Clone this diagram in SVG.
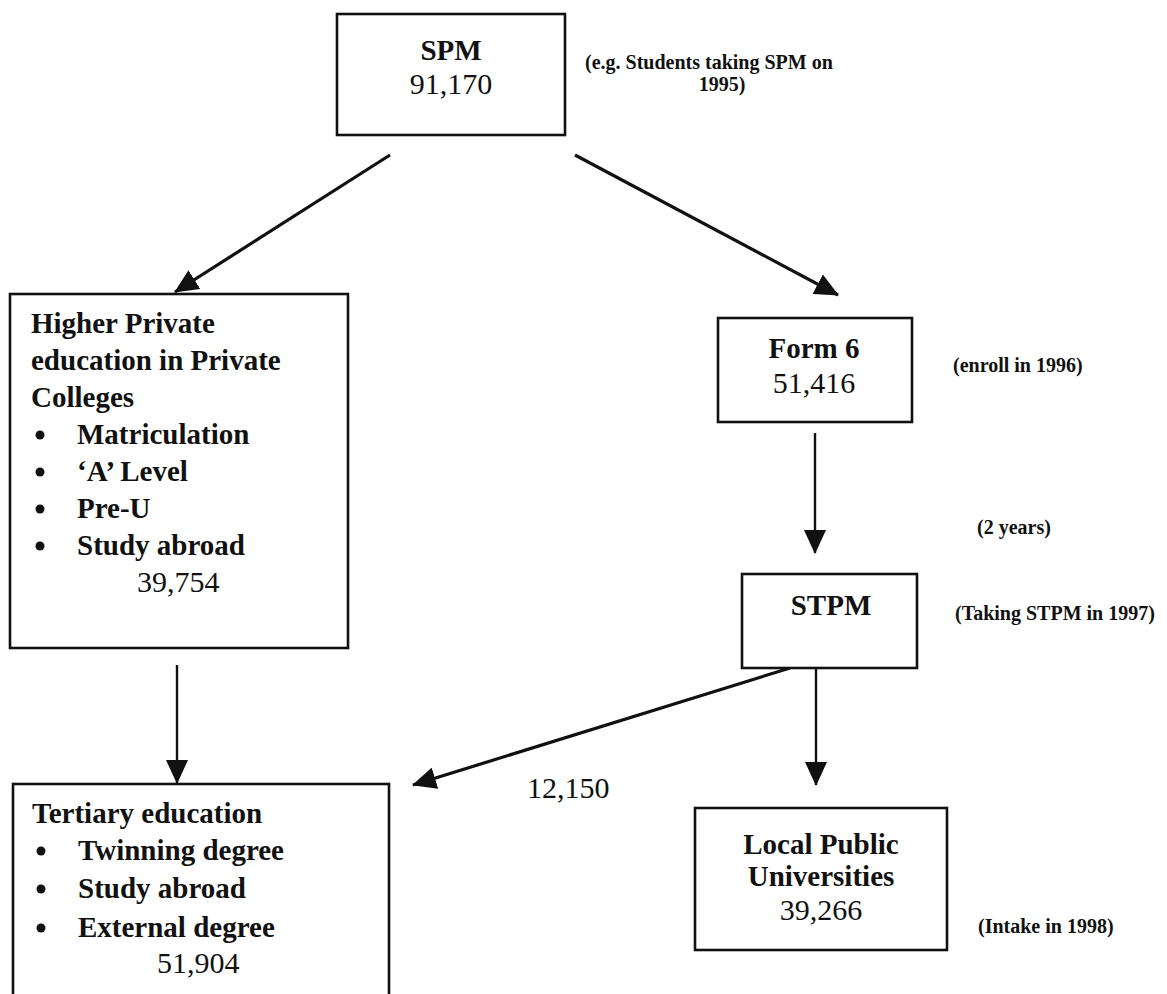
<svg xmlns="http://www.w3.org/2000/svg" width="1167" height="994" viewBox="0 0 1167 994">
<defs>
<style>
.box{fill:#fff;stroke:#111;stroke-width:2.6}
.lbl{font-family:"Liberation Serif","Times New Roman",serif;font-size:29px;font-weight:bold;fill:#111}
.num{font-family:"Liberation Serif","Times New Roman",serif;font-size:30px;fill:#111}
.note{font-family:"Liberation Serif","Times New Roman",serif;font-size:20px;font-weight:bold;fill:#111}
.c{text-anchor:middle}
.edge{stroke:#111;stroke-width:3.2;fill:none;marker-end:url(#ah)}
.vedge{stroke:#111;stroke-width:2.4;fill:none;marker-end:url(#ah)}
.dot{fill:#111}
</style>
<marker id="ah" markerUnits="userSpaceOnUse" markerWidth="24" markerHeight="22" refX="23" refY="11" orient="auto">
<path d="M0,0 L24,11 L0,22 z" fill="#111"/>
</marker>
</defs>
<rect width="1167" height="994" fill="#fff"/>

<g id="connectors">
<line class="edge" x1="390" y1="155" x2="175" y2="292"/>
<line class="edge" x1="575" y1="155" x2="838" y2="295"/>
<line class="vedge" x1="815" y1="433" x2="815" y2="553"/>
<line class="vedge" x1="177" y1="665" x2="177" y2="783"/>
<line class="edge" x1="790" y1="668" x2="413" y2="785"/>
<line class="vedge" x1="816" y1="668" x2="816" y2="785"/>
</g>

<g id="spm">
<rect class="box" x="337" y="14" width="228" height="121"/>
<text class="lbl c" x="451" y="60">SPM</text>
<text class="num c" x="451" y="94">91,170</text>
</g>

<g id="note-spm">
<text class="note" x="585" y="69">(e.g. Students taking SPM on</text>
<text class="note c" x="722" y="91">1995)</text>
</g>

<g id="higher-private">
<rect class="box" x="10" y="294" width="338" height="354"/>
<text class="lbl" x="31" y="333">Higher Private</text>
<text class="lbl" x="31" y="370">education in Private</text>
<text class="lbl" x="31" y="407">Colleges</text>
<circle class="dot" cx="40" cy="435" r="4.5"/>
<text class="lbl" x="77" y="444">Matriculation</text>
<circle class="dot" cx="40" cy="472" r="4.5"/>
<text class="lbl" x="77" y="481">‘A’ Level</text>
<circle class="dot" cx="40" cy="509" r="4.5"/>
<text class="lbl" x="77" y="518">Pre-U</text>
<circle class="dot" cx="40" cy="546" r="4.5"/>
<text class="lbl" x="77" y="555">Study abroad</text>
<text class="num" x="137" y="592">39,754</text>
</g>

<g id="form6">
<rect class="box" x="718" y="318" width="194" height="104"/>
<text class="lbl c" x="814" y="358">Form 6</text>
<text class="num c" x="814" y="393">51,416</text>
</g>

<g id="note-form6">
<text class="note" x="953" y="372">(enroll in 1996)</text>
<text class="note" x="977" y="534">(2  years)</text>
</g>

<g id="stpm">
<rect class="box" x="742" y="574" width="175" height="94"/>
<text class="lbl c" x="831" y="615">STPM</text>
</g>

<g id="note-stpm">
<text class="note" x="955" y="620">(Taking STPM in 1997)</text>
</g>

<g id="label-12150">
<text class="num" x="527" y="798">12,150</text>
</g>

<g id="tertiary">
<rect class="box" x="13" y="784" width="376" height="240"/>
<text class="lbl" x="32" y="823">Tertiary education</text>
<circle class="dot" cx="41" cy="851" r="4.5"/>
<text class="lbl" x="78" y="860">Twinning degree</text>
<circle class="dot" cx="41" cy="889" r="4.5"/>
<text class="lbl" x="78" y="898">Study abroad</text>
<circle class="dot" cx="41" cy="928" r="4.5"/>
<text class="lbl" x="78" y="937">External degree</text>
<text class="num" x="157" y="973">51,904</text>
</g>

<g id="local-public">
<rect class="box" x="695" y="808" width="252" height="142"/>
<text class="lbl c" x="821" y="854">Local Public</text>
<text class="lbl c" x="821" y="886">Universities</text>
<text class="num c" x="821" y="920">39,266</text>
</g>

<g id="note-local">
<text class="note" x="978" y="933">(Intake in 1998)</text>
</g>
</svg>
